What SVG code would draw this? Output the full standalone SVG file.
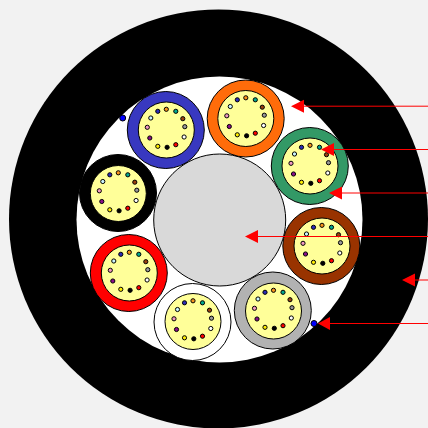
<svg xmlns="http://www.w3.org/2000/svg" xmlns:xlink="http://www.w3.org/1999/xlink" width="428" height="428" viewBox="0 0 428 428">
<style>
.ol{stroke:#000;stroke-width:1}
.core{fill:#ffff99;stroke:#000;stroke-width:1}
.f{stroke:#000;stroke-width:1}
.lead{stroke:#ff0000;stroke-width:1;fill:none}
.head{fill:#ff0000}
.dot{fill:#0000ff;stroke:#000;stroke-width:1}
</style>
<defs>
<g id="fibers">
<circle class="core" r="28"/>
<circle class="f" cx="-8.5" cy="-18.7" r="2.1" fill="#2a2ab8"/>
<circle class="f" cx="0" cy="-20.7" r="2.1" fill="#f7941d"/>
<circle class="f" cx="9.5" cy="-18.7" r="2.1" fill="#00a88f"/>
<circle class="f" cx="16.5" cy="-11.3" r="2.1" fill="#99400f"/>
<circle class="f" cx="18.5" cy="-3.3" r="2.1" fill="#999999"/>
<circle class="f" cx="17.8" cy="7" r="2.1" fill="#ffffff"/>
<circle class="f" cx="9.5" cy="14.7" r="2.1" fill="#ff0000"/>
<circle class="f" cx="0.8" cy="17.3" r="2.1" fill="#000000"/>
<circle class="f" cx="-8.5" cy="16.3" r="2.1" fill="#ffee00"/>
<circle class="f" cx="-16.5" cy="8" r="2.1" fill="#8b0f8b"/>
<circle class="f" cx="-19" cy="-2.7" r="2.1" fill="#f29ac2"/>
<circle class="f" cx="-15.5" cy="-12" r="2.1" fill="#ccf5ff"/>
</g>
</defs>
<rect id="background" width="428" height="428" fill="#f2f2f2"/>
<g id="sheath"><circle cx="218.500" cy="219" r="209.500" fill="#000"/></g>
<g id="filler"><circle cx="219.500" cy="219.500" r="143" fill="#fff"/></g>
<g id="center-member"><circle class="ol" cx="219.700" cy="220" r="66" fill="#d9d9d9"/></g>
<g id="tube-orange"><circle class="ol" cx="245.700" cy="118.500" r="38.500" fill="#ff6c0a"/><use href="#fibers" xlink:href="#fibers" x="245.800" y="118.500"/></g>
<g id="tube-blue"><circle class="ol" cx="165.800" cy="130" r="38.500" fill="#3838c0"/><use href="#fibers" xlink:href="#fibers" x="166.300" y="130"/></g>
<g id="tube-green"><circle class="ol" cx="309.800" cy="166" r="38.500" fill="#339966"/><use href="#fibers" xlink:href="#fibers" x="310" y="166"/></g>
<g id="tube-brown"><circle class="ol" cx="321.300" cy="246" r="38.500" fill="#993300"/><use href="#fibers" xlink:href="#fibers" x="322" y="246"/></g>
<g id="tube-grey"><circle class="ol" cx="272.800" cy="310.500" r="38.500" fill="#b2b2b2"/><use href="#fibers" xlink:href="#fibers" x="273.500" y="311"/></g>
<g id="tube-white"><circle class="ol" cx="192.500" cy="322" r="38.500" fill="#ffffff"/><use href="#fibers" xlink:href="#fibers" x="193" y="321.500"/></g>
<g id="tube-red"><circle class="ol" cx="128.800" cy="273" r="38.500" fill="#ff0000"/><use href="#fibers" xlink:href="#fibers" x="129.300" y="273"/></g>
<g id="tube-black"><circle class="ol" cx="118" cy="193" r="38.500" fill="#000000"/><use href="#fibers" xlink:href="#fibers" x="118.300" y="193.500"/></g>
<g id="ripcord-1"><circle class="dot" cx="122.700" cy="118" r="3"/></g>
<g id="ripcord-2"><circle class="dot" cx="314" cy="323.500" r="3"/></g>
<g id="connectors">
<path class="lead" d="M428 106.200H300"/><polygon class="head" points="291,106.200 304,99.700 304,112.700"/>
<path class="lead" d="M428 149.500H330"/><polygon class="head" points="321,149.500 334,143 334,156"/>
<path class="lead" d="M428 193H338"/><polygon class="head" points="329,193 342,186.500 342,199.500"/>
<path class="lead" d="M428 236.500H254"/><polygon class="head" points="245,236.500 258,230 258,243"/>
<path class="lead" d="M428 280H411"/><polygon class="head" points="402,280 415,273.500 415,286.500"/>
<path class="lead" d="M428 323.500H327"/><polygon class="head" points="318,323.500 330,317 330,330"/>
</g>
</svg>
